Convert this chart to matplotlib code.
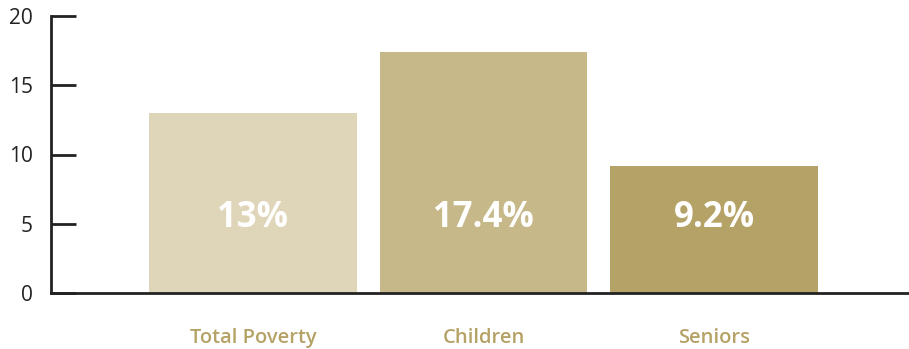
import matplotlib

matplotlib.use("Agg")

import matplotlib.pyplot as plt
import numpy as np

categories = ["Total Poverty", "Children", "Seniors"]
poverty_rates = [13.0, 17.4, 9.2]
bar_labels = ["13%", "17.4%", "9.2%"]
bar_colors = ["#dfd5b8", "#c6b889", "#b5a266"]
y_ticks = [0, 5, 10, 15, 20]

plt.rcParams["font.family"] = ["Open Sans", "DejaVu Sans"]

fig = plt.figure(figsize=(9.09, 3.49), dpi=100)
ax = fig.add_axes([51 / 909, 56 / 349, 858 / 909, 277 / 349])

x = np.arange(len(categories))
ax.bar(x, poverty_rates, width=0.9, color=bar_colors, zorder=1)

for xi, text in zip(x, bar_labels):
    ax.text(xi, 5.4, text, ha="center", va="center", color="white",
            fontsize=25, fontweight="bold")

ax.set_xlim(-0.876, 2.846)
ax.set_ylim(0, 20)
ax.set_yticks(y_ticks)
ax.set_xticks(x)
ax.set_xticklabels(categories, color="#b5a266", fontsize=14.5, fontweight="semibold")

ax.tick_params(axis="y", direction="in", length=18, width=2, color="#222222",
               pad=13, labelsize=15, labelcolor="#222222")
ax.tick_params(axis="x", length=0, pad=25)

for side in ("top", "right"):
    ax.spines[side].set_visible(False)
for side in ("left", "bottom"):
    ax.spines[side].set_linewidth(2)
    ax.spines[side].set_color("#222222")
    ax.spines[side].set_zorder(3)

fig.savefig("out.png", dpi=100)
